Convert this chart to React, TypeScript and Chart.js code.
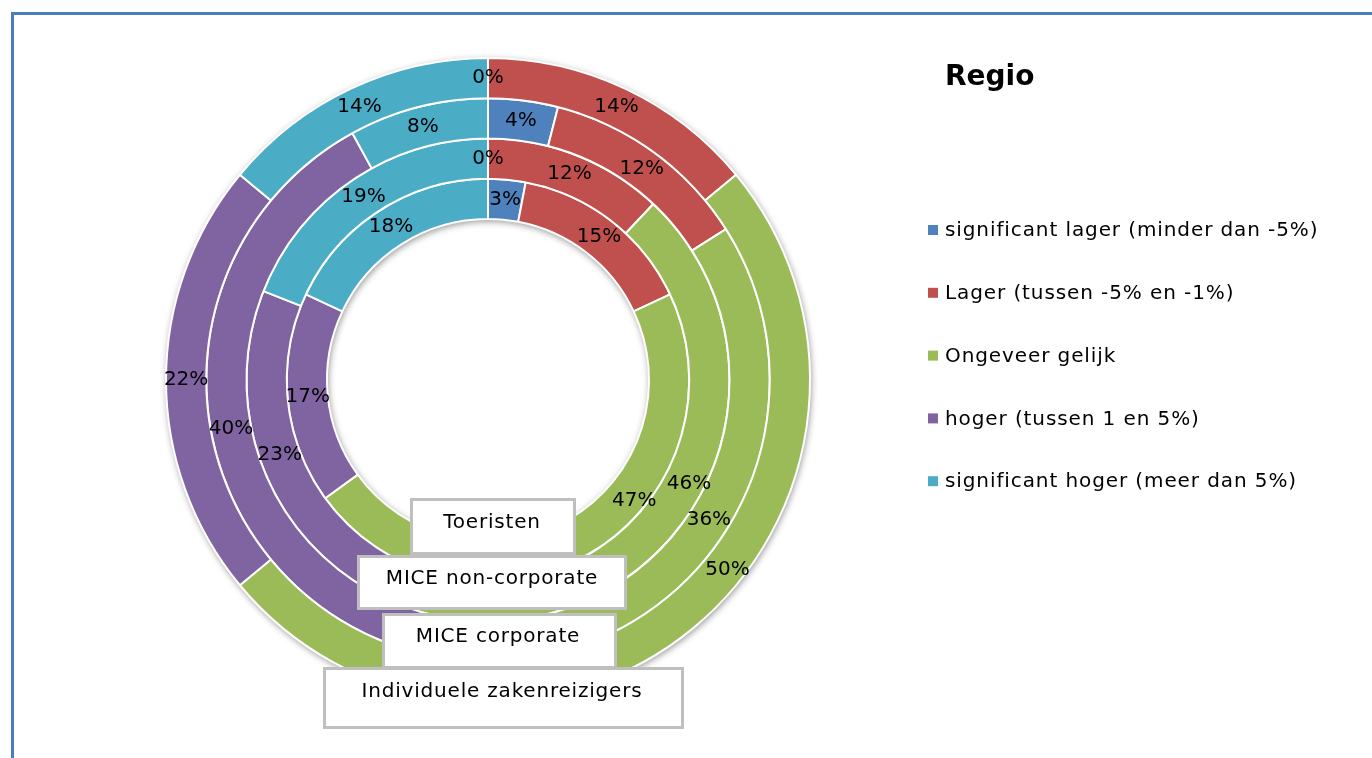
import React, { useEffect, useRef } from "react";
import { Chart, registerables } from "chart.js";

Chart.register(...registerables);

// ---- Data ----
const categories = [
  "significant lager (minder dan -5%)",
  "Lager (tussen -5% en -1%)",
  "Ongeveer gelijk",
  "hoger (tussen 1 en 5%)",
  "significant hoger (meer dan 5%)",
];
// rings from outer to inner
const ringNames = ["Individuele zakenreizigers", "MICE corporate", "MICE non-corporate", "Toeristen"];
const individueleZakenreizigers = [0, 14, 50, 22, 14];
const miceCorporate = [4, 12, 36, 40, 8];
const miceNonCorporate = [0, 12, 46, 23, 19];
const toeristen = [3, 15, 47, 17, 18];
const seriesValues = [individueleZakenreizigers, miceCorporate, miceNonCorporate, toeristen];
const legendTitle = "Regio";

// ---- Style / layout ----
const colors = ["#4F81BD", "#C0504D", "#9BBB59", "#8064A2", "#4BACC6"];
const FONT = "'DejaVu Sans', Verdana, sans-serif";
// label nudges (px) for labels Excel moved, key: datasetIndex-index
const labelNudge: Record<string, [number, number]> = {
  "3-2": [54, -35],
  "2-2": [22, -26],
  "0-2": [47, -43],
};
// category boxes: ringIndex, left, top, width, height, textX, textY (drawn inner first)
const boxLayout: [number, number, number, number, number, number, number][] = [
  [3, 411, 499, 163, 54, 492, 523],
  [2, 358, 556, 267, 52, 492, 579],
  [1, 383, 614, 232, 53, 498, 637],
  [0, 324, 668, 358, 59, 502, 692],
];

const decorPlugin = {
  id: "decor",
  beforeDraw(chart: any) {
    const ctx = chart.ctx;
    ctx.save();
    ctx.fillStyle = "#ffffff";
    ctx.fillRect(0, 0, chart.width, chart.height);
    ctx.strokeStyle = "#4A7EBB";
    ctx.lineWidth = 3;
    ctx.beginPath();
    ctx.moveTo(12.5, chart.height + 5);
    ctx.lineTo(12.5, 13.5);
    ctx.lineTo(chart.width + 5, 13.5);
    ctx.stroke();
    ctx.restore();
  },
  beforeDatasetsDraw(chart: any) {
    const ctx = chart.ctx;
    const outer = chart.getDatasetMeta(0).data[0];
    const inner = chart.getDatasetMeta(chart.data.datasets.length - 1).data[0];
    if (!outer || !inner) return;
    ctx.save();
    ctx.beginPath();
    ctx.arc(outer.x, outer.y, outer.outerRadius, 0, Math.PI * 2);
    ctx.arc(outer.x, outer.y, inner.innerRadius, 0, Math.PI * 2, true);
    ctx.closePath();
    ctx.shadowColor = "rgba(0,0,0,0.45)";
    ctx.shadowBlur = 7;
    ctx.shadowOffsetX = 1;
    ctx.shadowOffsetY = 2;
    ctx.fillStyle = "#ffffff";
    ctx.fill("evenodd");
    ctx.restore();
  },
  afterDatasetsDraw(chart: any) {
    const ctx = chart.ctx;
    ctx.save();
    ctx.font = `20px ${FONT}`;
    ctx.fillStyle = "#000000";
    ctx.textAlign = "center";
    ctx.textBaseline = "middle";
    chart.data.datasets.forEach((ds: any, di: number) => {
      const meta = chart.getDatasetMeta(di);
      meta.data.forEach((arc: any, i: number) => {
        const p = arc.tooltipPosition();
        const n = labelNudge[`${di}-${i}`] || [0, 0];
        ctx.fillText(`${ds.data[i]}%`, p.x + n[0], p.y + n[1]);
      });
    });
    ctx.restore();
  },
  afterDraw(chart: any) {
    const ctx = chart.ctx;
    ctx.save();
    // category boxes
    boxLayout.forEach(([ri, l, t, w, h, tx, ty]) => {
      ctx.fillStyle = "#ffffff";
      ctx.fillRect(l, t, w, h);
      ctx.strokeStyle = "#BFBFBF";
      ctx.lineWidth = 3;
      ctx.strokeRect(l + 0.5, t + 0.5, w, h);
      ctx.fillStyle = "#000000";
      ctx.font = `20px ${FONT}`;
      (ctx as any).letterSpacing = "0.8px";
      ctx.textAlign = "center";
      ctx.textBaseline = "middle";
      ctx.fillText(chart.data.datasets[ri].label, tx, ty);
    });
    // legend
    (ctx as any).letterSpacing = "0px";
    ctx.fillStyle = "#000000";
    ctx.font = `bold 28px ${FONT}`;
    ctx.textAlign = "left";
    ctx.textBaseline = "middle";
    ctx.fillText(legendTitle, 945, 78);
    ctx.font = `20px ${FONT}`;
    (ctx as any).letterSpacing = "0.9px";
    chart.data.labels.forEach((lab: string, i: number) => {
      const y = 230 + i * 62.8;
      ctx.fillStyle = colors[i];
      ctx.fillRect(928, y - 5, 10, 10);
      ctx.fillStyle = "#000000";
      ctx.fillText(lab, 945, y + 1);
    });
    ctx.restore();
  },
};

export default function App() {
  const ref = useRef<HTMLCanvasElement>(null);
  useEffect(() => {
    if (!ref.current) return;
    const chart = new Chart(ref.current, {
      type: "doughnut",
      data: {
        labels: categories,
        datasets: seriesValues.map((vals, i) => ({
          label: ringNames[i],
          data: vals,
          backgroundColor: colors,
          borderColor: "#ffffff",
          borderWidth: 2,
        })),
      },
      options: {
        animation: false,
        responsive: true,
        maintainAspectRatio: false,
        cutout: "50%",
        events: [],
        layout: { padding: { left: 165, top: 57, right: 561, bottom: 55 } },
        plugins: {
          legend: { display: false },
          tooltip: { enabled: false },
          title: { display: false },
        },
      },
      plugins: [decorPlugin],
    });
    return () => chart.destroy();
  }, []);
  return (
    <div style={{ position: "absolute", left: 0, top: 0, width: 1372, height: 758 }}>
      <canvas ref={ref} />
    </div>
  );
}
